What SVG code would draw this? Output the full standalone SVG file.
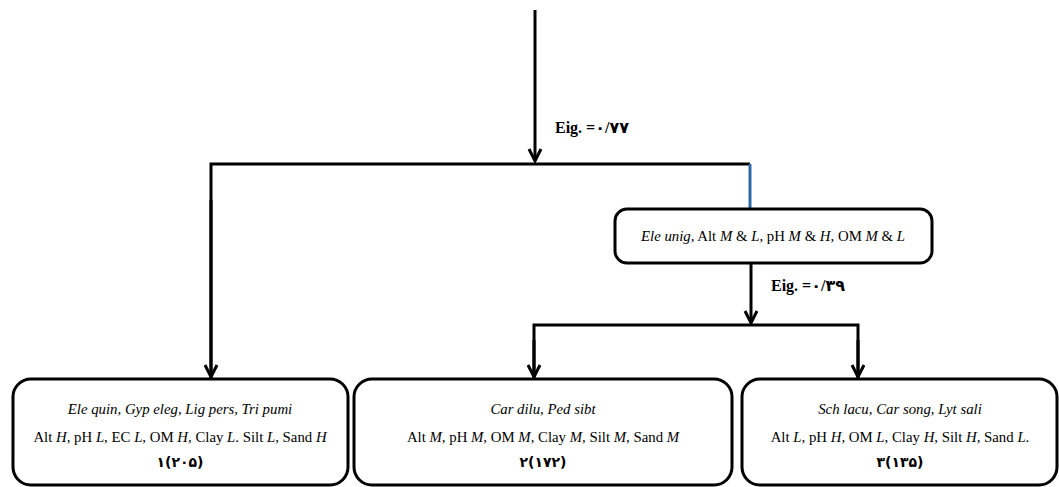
<svg xmlns="http://www.w3.org/2000/svg" width="1059" height="487" viewBox="0 0 1059 487">
<defs>
<marker id="arr" markerUnits="userSpaceOnUse" markerWidth="20" markerHeight="20" viewBox="-10 -16 20 20" refX="0" refY="0" orient="auto-start-reverse" overflow="visible">
<path d="M-12,-6 L0,0 L-12,6" fill="none" stroke="#000" stroke-width="3" stroke-linejoin="miter"/>
</marker>
</defs>
<style>
.ln{fill:none;stroke:#000;stroke-width:3}
.box{fill:#fff;stroke:#000;stroke-width:3}
.t{font-family:"Liberation Serif","DejaVu Sans",serif;font-size:14.8px;fill:#000;text-anchor:middle}
.b{font-family:"Liberation Serif","DejaVu Sans",serif;font-size:16px;font-weight:bold;fill:#000}
.n{font-family:"DejaVu Sans",sans-serif;font-size:14px;font-weight:bold;fill:#000;text-anchor:middle}
</style>
<rect width="1059" height="487" fill="#fff"/>
<g id="connectors">
<line class="ln" x1="535" y1="10" x2="535" y2="161" marker-end="url(#arr)"/>
<polyline class="ln" points="211,378 211,164 750,164"/>
<line x1="750" y1="164" x2="750" y2="208" stroke="#2e6aa6" stroke-width="3"/>
<line class="ln" x1="211" y1="200" x2="211" y2="377" marker-end="url(#arr)"/>
<line class="ln" x1="751" y1="263" x2="751" y2="323" marker-end="url(#arr)"/>
<polyline class="ln" points="534,378 534,325 858,325 858,378"/>
<line class="ln" x1="534" y1="340" x2="534" y2="377" marker-end="url(#arr)"/>
<line class="ln" x1="858" y1="340" x2="858" y2="377" marker-end="url(#arr)"/>
<text class="b" x="555" y="133">Eig. =۰/۷۷</text>
<text class="b" x="771" y="291">Eig. =۰/۳۹</text>
</g>
<g id="node-split">
<rect class="box" x="615" y="209" width="317" height="54" rx="12"/>
<text class="t" x="773" y="241"><tspan font-style="italic">Ele unig,</tspan> Alt <tspan font-style="italic">M</tspan> &amp; <tspan font-style="italic">L</tspan>, pH <tspan font-style="italic">M</tspan> &amp; <tspan font-style="italic">H</tspan>, OM <tspan font-style="italic">M</tspan> &amp; <tspan font-style="italic">L</tspan></text>
</g>
<g id="node-1">
<rect class="box" x="13" y="379" width="335" height="106" rx="18"/>
<text class="t" x="180" y="414" font-style="italic">Ele quin, Gyp eleg, Lig pers, Tri pumi</text>
<text class="t" x="180" y="442">Alt <tspan font-style="italic">H,</tspan> pH <tspan font-style="italic">L</tspan>, EC <tspan font-style="italic">L</tspan>, OM <tspan font-style="italic">H,</tspan> Clay <tspan font-style="italic">L</tspan>. Silt <tspan font-style="italic">L</tspan>, Sand <tspan font-style="italic">H</tspan></text>
<text class="n" x="180" y="467">۱(۲۰۵)</text>
</g>
<g id="node-2">
<rect class="box" x="354" y="379" width="378" height="106" rx="18"/>
<text class="t" x="543" y="414" font-style="italic">Car dilu, Ped sibt</text>
<text class="t" x="543" y="442">Alt <tspan font-style="italic">M,</tspan> pH <tspan font-style="italic">M,</tspan> OM <tspan font-style="italic">M,</tspan> Clay <tspan font-style="italic">M,</tspan> Silt <tspan font-style="italic">M,</tspan> Sand <tspan font-style="italic">M</tspan></text>
<text class="n" x="543" y="467">۲(۱۷۲)</text>
</g>
<g id="node-3">
<rect class="box" x="742" y="379" width="315" height="106" rx="18"/>
<text class="t" x="900" y="414" font-style="italic">Sch lacu, Car song, Lyt sali</text>
<text class="t" x="900" y="442">Alt <tspan font-style="italic">L</tspan>, pH <tspan font-style="italic">H,</tspan> OM <tspan font-style="italic">L</tspan>, Clay <tspan font-style="italic">H,</tspan> Silt <tspan font-style="italic">H,</tspan> Sand <tspan font-style="italic">L</tspan>.</text>
<text class="n" x="900" y="467">۳(۱۳۵)</text>
</g>
</svg>
